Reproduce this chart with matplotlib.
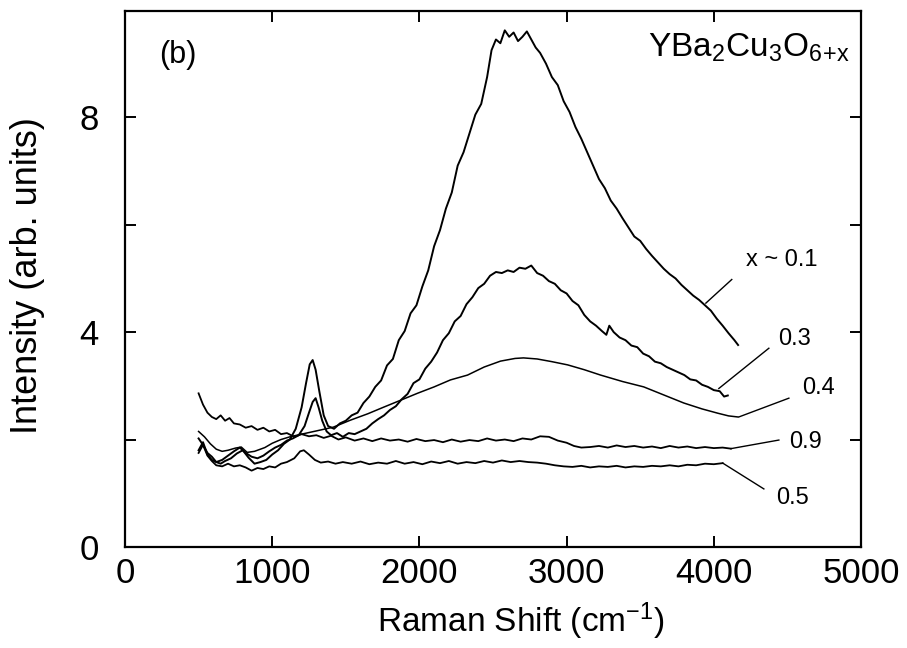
import matplotlib
matplotlib.use("Agg")
import matplotlib.pyplot as plt

# YBa2Cu3O6+x, espectros Raman (painel b)
x_01 = [500, 530, 560, 590, 620, 650, 680, 720, 760, 800,
        840, 880, 920, 960, 1000, 1040, 1080, 1120, 1160, 1200,
        1230, 1255, 1275, 1295, 1320, 1350, 1380, 1420, 1460, 1500,
        1540, 1580, 1620, 1660, 1700, 1740, 1780, 1820, 1860, 1900,
        1940, 1980, 2020, 2060, 2100, 2140, 2180, 2220, 2260, 2300,
        2340, 2380, 2420, 2460, 2490, 2520, 2550, 2580, 2610, 2640,
        2670, 2700, 2730, 2760, 2790, 2820, 2860, 2900, 2940, 2980,
        3020, 3060, 3100, 3140, 3180, 3220, 3260, 3300, 3340, 3380,
        3420, 3460, 3500, 3540, 3580, 3620, 3660, 3700, 3740, 3780,
        3820, 3860, 3900, 3940, 3980, 4020, 4060, 4100, 4140, 4165]
y_01 = [2.02, 1.90, 1.75, 1.68, 1.58, 1.55, 1.60, 1.65, 1.74, 1.80,
        1.66, 1.55, 1.58, 1.62, 1.72, 1.80, 1.92, 2.00, 2.20, 2.60,
        3.05, 3.40, 3.48, 3.30, 2.90, 2.45, 2.25, 2.20, 2.30, 2.35,
        2.45, 2.50, 2.68, 2.80, 2.98, 3.10, 3.38, 3.50, 3.85, 4.02,
        4.35, 4.50, 4.85, 5.15, 5.60, 5.90, 6.30, 6.60, 7.10, 7.35,
        7.70, 8.05, 8.25, 8.75, 9.25, 9.45, 9.38, 9.62, 9.50, 9.58,
        9.42, 9.50, 9.60, 9.45, 9.30, 9.20, 9.00, 8.75, 8.60, 8.30,
        8.10, 7.82, 7.60, 7.35, 7.10, 6.85, 6.68, 6.45, 6.30, 6.12,
        5.95, 5.78, 5.70, 5.55, 5.42, 5.30, 5.18, 5.08, 5.00, 4.88,
        4.78, 4.68, 4.60, 4.50, 4.40, 4.25, 4.12, 3.98, 3.85, 3.76]

x_03 = [500, 530, 560, 590, 620, 660, 700, 740, 780, 820,
        860, 900, 940, 980, 1020, 1060, 1100, 1140, 1180, 1220,
        1250, 1275, 1295, 1315, 1340, 1370, 1400, 1440, 1480, 1520,
        1560, 1600, 1640, 1680, 1720, 1760, 1800, 1840, 1880, 1920,
        1960, 2000, 2040, 2080, 2120, 2160, 2200, 2240, 2280, 2320,
        2360, 2400, 2440, 2480, 2520, 2560, 2600, 2640, 2680, 2720,
        2760, 2800, 2840, 2880, 2920, 2960, 3000, 3040, 3080, 3120,
        3160, 3200, 3240, 3270, 3290, 3320, 3360, 3400, 3440, 3480,
        3520, 3560, 3600, 3640, 3680, 3720, 3760, 3800, 3840, 3880,
        3920, 3960, 4000, 4040, 4070, 4095]
y_03 = [1.80, 1.95, 1.72, 1.62, 1.58, 1.62, 1.70, 1.78, 1.85, 1.75,
        1.68, 1.65, 1.70, 1.78, 1.85, 1.90, 1.98, 2.02, 2.08, 2.25,
        2.50, 2.70, 2.77, 2.60, 2.35, 2.15, 2.08, 2.12, 2.05, 2.12,
        2.10, 2.15, 2.20, 2.30, 2.38, 2.45, 2.55, 2.62, 2.75, 2.85,
        3.05, 3.12, 3.32, 3.45, 3.62, 3.85, 3.98, 4.20, 4.30, 4.52,
        4.65, 4.82, 4.90, 5.05, 5.12, 5.10, 5.15, 5.12, 5.20, 5.18,
        5.24, 5.10, 5.05, 4.95, 4.90, 4.78, 4.72, 4.58, 4.50, 4.32,
        4.20, 4.12, 4.02, 3.95, 4.12, 4.00, 3.90, 3.85, 3.75, 3.72,
        3.60, 3.55, 3.45, 3.42, 3.35, 3.30, 3.25, 3.20, 3.12, 3.10,
        3.02, 2.98, 2.92, 2.90, 2.80, 2.82]

x_04 = [500, 540, 580, 620, 660, 700, 750, 790, 830, 880,
        950, 1000, 1060, 1120, 1200, 1300, 1415, 1531, 1650, 1755,
        1871, 1986, 2100, 2211, 2327, 2440, 2551, 2650, 2707, 2800,
        2900, 3007, 3120, 3231, 3380, 3524, 3660, 3796, 3920, 4027,
        4100, 4163]
y_04 = [2.15, 2.05, 1.92, 1.82, 1.78, 1.80, 1.84, 1.86, 1.76, 1.78,
        1.85, 1.93, 2.00, 2.05, 2.10, 2.16, 2.23, 2.36, 2.48, 2.60,
        2.73, 2.86, 2.98, 3.11, 3.20, 3.35, 3.46, 3.51, 3.52, 3.50,
        3.45, 3.39, 3.30, 3.20, 3.08, 2.98, 2.83, 2.68, 2.57, 2.49,
        2.44, 2.42]

x_09 = [500, 530, 560, 590, 620, 650, 680, 710, 740, 780,
        820, 860, 900, 940, 980, 1020, 1060, 1100, 1150, 1200,
        1250, 1300, 1350, 1400, 1450, 1500, 1560, 1620, 1680, 1740,
        1800, 1860, 1920, 1980, 2040, 2100, 2160, 2220, 2280, 2340,
        2400, 2460, 2520, 2580, 2640, 2700, 2760, 2820, 2880, 2940,
        3000, 3050, 3100, 3160, 3220, 3280, 3340, 3400, 3460, 3520,
        3580, 3640, 3700, 3760, 3820, 3880, 3940, 4000, 4060, 4116]
y_09 = [2.86, 2.65, 2.50, 2.42, 2.38, 2.45, 2.35, 2.40, 2.30, 2.28,
        2.22, 2.25, 2.18, 2.22, 2.15, 2.18, 2.10, 2.12, 2.05, 2.10,
        2.06, 2.08, 2.03, 2.07, 2.00, 2.04, 1.98, 2.02, 1.97, 2.02,
        1.98, 2.00, 1.96, 2.01, 1.97, 1.99, 1.95, 2.00, 1.96, 1.99,
        1.97, 2.02, 1.98, 2.00, 1.97, 2.02, 2.00, 2.06, 2.05, 1.98,
        1.94, 1.88, 1.85, 1.86, 1.88, 1.85, 1.89, 1.86, 1.88, 1.85,
        1.87, 1.84, 1.88, 1.85, 1.87, 1.84, 1.86, 1.84, 1.85, 1.83]

x_05 = [500, 530, 560, 590, 620, 660, 700, 740, 780, 820,
        860, 900, 940, 980, 1020, 1060, 1100, 1150, 1190, 1215,
        1250, 1290, 1330, 1380, 1430, 1480, 1540, 1600, 1660, 1720,
        1780, 1840, 1900, 1960, 2020, 2080, 2140, 2200, 2260, 2320,
        2380, 2440, 2500, 2560, 2620, 2680, 2740, 2800, 2860, 2920,
        2980, 3040, 3100, 3160, 3220, 3280, 3340, 3400, 3460, 3520,
        3580, 3640, 3700, 3760, 3820, 3880, 3940, 4000, 4060]
y_05 = [1.75, 1.90, 1.70, 1.60, 1.52, 1.50, 1.55, 1.50, 1.52, 1.48,
        1.42, 1.47, 1.45, 1.50, 1.48, 1.55, 1.58, 1.65, 1.78, 1.80,
        1.72, 1.62, 1.57, 1.59, 1.55, 1.58, 1.55, 1.59, 1.54, 1.57,
        1.55, 1.60, 1.55, 1.58, 1.54, 1.59, 1.56, 1.60, 1.55, 1.58,
        1.56, 1.60, 1.57, 1.61, 1.58, 1.60, 1.58, 1.57, 1.55, 1.52,
        1.50, 1.49, 1.51, 1.48, 1.50, 1.49, 1.51, 1.48, 1.50, 1.49,
        1.51, 1.50, 1.52, 1.50, 1.53, 1.52, 1.55, 1.54, 1.56]

# rotulos: texto, ponto na curva, ponta da linha, posicao do texto
rotulos = [
    ("x ~ 0.1", (3946, 4.54), (4122, 4.98), (4463, 5.34)),
    ("0.3", (4034, 2.95), (4374, 3.70), (4551, 3.87)),
    ("0.4", (4170, 2.42), (4510, 2.77), (4714, 2.96)),
    ("0.9", (4116, 1.83), (4442, 1.99), (4626, 1.95)),
    ("0.5", (4061, 1.56), (4340, 1.08), (4537, 0.91)),
]

plt.rcParams["font.family"] = ["Liberation Sans", "DejaVu Sans"]
plt.rcParams["mathtext.fontset"] = "custom"
plt.rcParams["mathtext.rm"] = "Liberation Sans"
plt.rcParams["mathtext.default"] = "regular"

fig = plt.figure(figsize=(9.07, 6.48), dpi=100)
ax = fig.add_axes([0.1378, 0.156, 0.8115, 0.827])

for xs, ys, lw in [(x_01, y_01, 1.4), (x_03, y_03, 1.4), (x_04, y_04, 1.1),
                   (x_09, y_09, 1.3), (x_05, y_05, 1.3)]:
    ax.plot(xs, ys, color="black", lw=lw)

for txt, p0, p1, pt in rotulos:
    ax.plot([p0[0], p1[0]], [p0[1], p1[1]], color="black", lw=1.0)
    ax.text(pt[0], pt[1], txt, fontsize=17, ha="center", va="center")

ax.text(0.047, 0.918, "(b)", transform=ax.transAxes, fontsize=22,
        ha="left", va="center")
ax.text(0.985, 0.932, r"YBa$_2$Cu$_3$O$_{6\!+\!x}$", transform=ax.transAxes,
        fontsize=24, ha="right", va="center")

ax.set_xlim(0, 5000)
ax.set_ylim(0, 9.98)
ax.set_xticks([0, 1000, 2000, 3000, 4000, 5000])
ax.set_yticks([0, 2, 4, 6, 8])
ax.set_yticklabels(["0", "", "4", "", "8"])
ax.tick_params(direction="in", length=8, width=1.4, labelsize=25,
               top=True, right=True)
ax.tick_params(axis="x", pad=7)
ax.tick_params(axis="y", pad=19)
for s in ax.spines.values():
    s.set_linewidth(1.6)

ax.set_xlabel("Raman Shift (cm$^{-1}$)", fontsize=24)
ax.xaxis.set_label_coords(0.538, -0.1)
ax.set_ylabel("Intensity (arb. units)", fontsize=26)
ax.yaxis.set_label_coords(-0.108, 0.507)

plt.savefig("out.png", dpi=100)
